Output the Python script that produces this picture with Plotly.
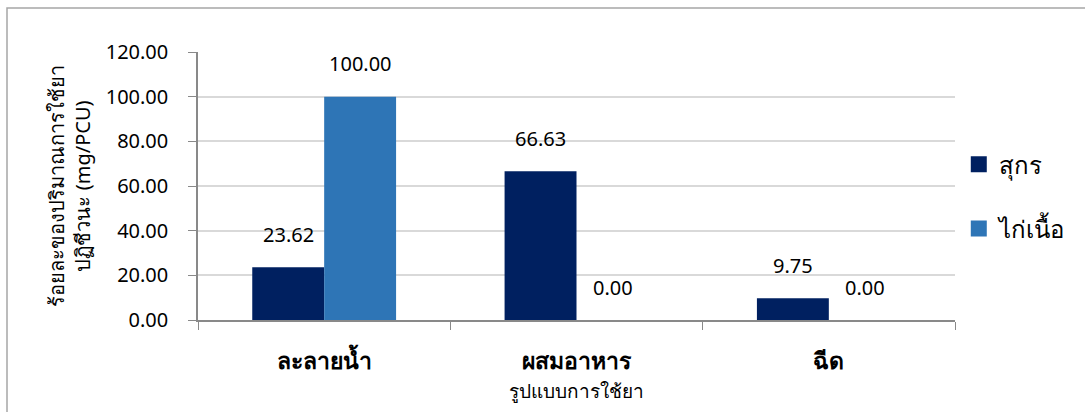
import plotly.graph_objects as go

categories = ["ละลายน้ำ", "ผสมอาหาร", "ฉีด"]
series_names = ["สุกร", "ไก่เนื้อ"]
pig_values = [23.62, 66.63, 9.75]
chicken_values = [100.00, 0.00, 0.00]
colors = ["#002060", "#2E75B6"]

FONT = "Noto Sans, DejaVu Sans, sans-serif"

fig = go.Figure()
for name, vals, col in zip(series_names, [pig_values, chicken_values], colors):
    fig.add_trace(go.Bar(
        x=categories, y=vals, name=name, marker_color=col,
        marker_line_width=0, showlegend=False,
    ))
# legend entries with larger square swatches
for name, col in zip(series_names, colors):
    fig.add_trace(go.Scatter(
        x=[None], y=[None], mode="markers", name=name, legendgroup=name,
        marker=dict(symbol="square", size=22, color=col),
    ))

# value labels above bars
bar_px = 72
for i, vals in enumerate([pig_values, chicken_values]):
    shift = (-0.5 if i == 0 else 0.5) * bar_px
    for c, v in zip(categories, vals):
        fig.add_annotation(x=c, y=v, xref="x", yref="y", text=f"{v:.2f}",
                           showarrow=False, xshift=shift, yshift=33,
                           font=dict(size=20, color="#000000", family=FONT))

W, H = 1085, 412
L, R, T, B = 198, 130, 52, 92
pw, ph = W - L - R, H - T - B
fig.add_shape(type="rect", xref="paper", yref="paper",
              x0=(7 - L) / pw, x1=(W + 20 - L) / pw,
              y0=(H - B - (H + 20)) / ph, y1=(H - B - 8) / ph,
              line=dict(color="#a6a6a6", width=1.5), fillcolor="rgba(0,0,0,0)", layer="below")

fig.update_layout(
    width=W, height=H,
    margin=dict(l=L, r=R, t=T, b=B),
    paper_bgcolor="white", plot_bgcolor="white",
    barmode="group", bargap=0.43, bargroupgap=0,
    font=dict(family=FONT, color="#000000"),
    legend=dict(x=1.005, y=0.46, xanchor="left", yanchor="middle",
                font=dict(size=24), tracegroupgap=30, itemwidth=30),
    xaxis=dict(
        title=dict(text="รูปแบบการใช้ยา", font=dict(size=19), standoff=9),
        tickfont=dict(size=23, weight="bold"),
        ticklabelstandoff=20,
        showline=True, linecolor="#898989", linewidth=1.5,
        ticks="outside", tickson="boundaries", ticklen=8, tickcolor="#898989",
        showgrid=False,
    ),
    yaxis=dict(
        title=dict(text="ร้อยละของปริมาณการใช้ยา<br>ปฏิชีวนะ (mg/PCU)", font=dict(size=20), standoff=10),
        range=[0, 120], dtick=20, tickformat=".2f",
        tickfont=dict(size=20),
        ticklabelstandoff=16,
        showline=True, linecolor="#898989", linewidth=1.5,
        ticks="outside", ticklen=8, tickcolor="#898989",
        showgrid=True, gridcolor="#d9d9d9", gridwidth=1.5,
        zeroline=False,
    ),
)

fig.write_html("out.html")
